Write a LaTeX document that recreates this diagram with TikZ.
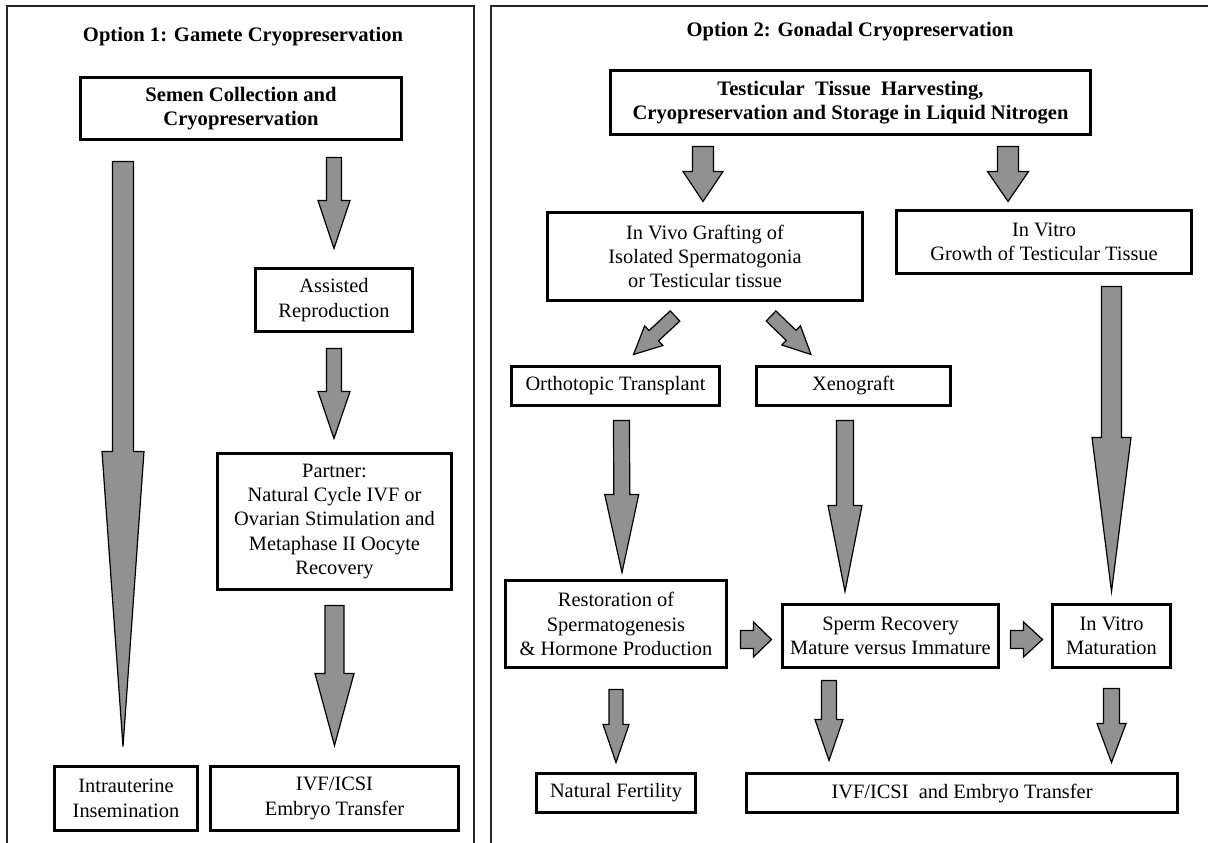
\documentclass[tikz,border=0pt]{standalone}
\usepackage{fontspec}
\setmainfont{Liberation Serif}
\usetikzlibrary{calc}
\definecolor{arrowgray}{RGB}{145,145,145}

\begin{document}
\begin{tikzpicture}[x=0.5pt,y=0.5pt,
  blockarrow/.style n args={3}{fill=arrowgray,draw=black,line width=0.6pt,line join=miter,
    to path={let \p1=(\tikztostart), \p2=(\tikztotarget),
      \n1={atan2(\y2-\y1,\x2-\x1)}, \n2={veclen(\x2-\x1,\y2-\y1)-#3} in
      ($(\p1)+(\n1+90:#1)$) -- ($(\p1)+(\n1:\n2)+(\n1+90:#1)$)
      -- ($(\p1)+(\n1:\n2)+(\n1+90:#2)$) -- (\p2)
      -- ($(\p1)+(\n1:\n2)+(\n1-90:#2)$) -- ($(\p1)+(\n1:\n2)+(\n1-90:#1)$)
      -- ($(\p1)+(\n1-90:#1)$) -- cycle}}]
\useasboundingbox (0,0) rectangle (1208,-842);
\clip (0,0) rectangle (1208,-842);
\tikzstyle{every node}+=[inner sep=0pt]
\tikzstyle{box}=[draw=black,line width=1.5pt,fill=white,align=center,font=\fontsize{10.2}{12.2}\selectfont]
\tikzstyle{boldbox}=[box,font=\fontsize{10.3}{12.2}\selectfont\bfseries]
\tikzstyle{title}=[font=\fontsize{10.3}{12.2}\selectfont\bfseries]
\tikzstyle{frame}=[line width=0.8pt,draw=black!85]
\draw[frame] (7,-850) -- (7,-6) -- (474,-6) -- (474,-850);
\draw[frame] (491,-850) -- (491,-6) -- (1215,-6);
\node[title] (opt1) at (243,-37) {Option 1: Gamete Cryopreservation};
\node[boldbox,minimum width=160.5pt,minimum height=31pt] (semen) at (241,-108.5) {Semen Collection and\\Cryopreservation};
\node[box,minimum width=78.5pt,minimum height=31.5pt] (art) at (334,-300) {Assisted\\Reproduction};
\node[box,minimum width=117pt,minimum height=68pt] (partner) at (334.5,-521.5) {Partner:\\Natural Cycle IVF or\\Ovarian Stimulation and\\Metaphase II Oocyte\\Recovery};
\node[box,minimum width=71.5pt,minimum height=32pt] (iui) at (126,-798.5) {Intrauterine\\Insemination};
\node[box,minimum width=124pt,minimum height=32pt] (ivfa) at (334.5,-798.5) {IVF/ICSI\\Embryo Transfer};
\node[title] (opt2) at (850,-32) {Option 2: Gonadal Cryopreservation};
\node[boldbox,minimum width=240pt,minimum height=32pt] (harvest) at (850.5,-102.5) {Testicular\ \ Tissue\ \ Harvesting,\\Cryopreservation and Storage in Liquid Nitrogen};
\node[box,minimum width=157.5pt,minimum height=44pt] (invivo) at (705,-256.5) {In Vivo Grafting of\\Isolated Spermatogonia\\or Testicular tissue};
\node[box,minimum width=147.5pt,minimum height=31.5pt] (invitro) at (1044,-242) {In Vitro\\Growth of Testicular Tissue};
\node[box,minimum width=104pt,minimum height=19.5pt] (ortho) at (615.5,-386) {Orthotopic Transplant};
\node[box,minimum width=97pt,minimum height=19.5pt] (xeno) at (853.5,-386) {Xenograft};
\node[box,minimum width=110.5pt,minimum height=43.5pt] (restore) at (616,-624) {Restoration of\\Spermatogenesis\\\& Hormone Production};
\node[box,minimum width=108pt,minimum height=31.5pt] (sperm) at (890.5,-636) {Sperm Recovery\\Mature versus Immature};
\node[box,minimum width=59pt,minimum height=31.5pt] (ivm) at (1111.5,-636) {In Vitro\\Maturation};
\node[box,minimum width=79.5pt,minimum height=19.5pt] (natural) at (616,-793) {Natural Fertility};
\node[box,minimum width=215.5pt,minimum height=19.5pt] (ivfb) at (962,-793) {IVF/ICSI\ \ and Embryo Transfer};
\draw[blockarrow={5.25pt}{10.5pt}{147.5pt}] ($(semen.south -| iui.north)+(-3,-20.5)$) to ($(iui.north)+(-3,18.5)$);
\draw[blockarrow={3.75pt}{8pt}{24pt}] ($(semen.south -| art.north)+(0,-16.5)$) to ($(art.north)+(0,18.5)$);
\draw[blockarrow={3.75pt}{8pt}{23.5pt}] ($(art.south)+(0,-15.5)$) to ($(partner.north -| art.north)+(0,13.5)$);
\draw[blockarrow={4.75pt}{9.75pt}{36pt}] ($(partner.south)+(0,-14.5)$) to ($(ivfa.north)+(0,19.5)$);
\draw[blockarrow={5.25pt}{10pt}{15pt}] ($(harvest.south -| invivo.north)+(-2,-10.5)$) to ($(invivo.north)+(-2,9.5)$);
\draw[blockarrow={5.25pt}{10.25pt}{15pt}] ($(harvest.south -| invitro.north)+(-36,-10.5)$) to ($(invitro.north)+(-36,7.5)$);
\draw[blockarrow={3.5pt}{6.7pt}{13.8pt}] ($(invivo.south)+(-30,-14)$) to ($(ortho.north)+(18,10.5)$);
\draw[blockarrow={3.5pt}{6.7pt}{13.8pt}] ($(invivo.south)+(66,-14)$) to ($(xeno.north)+(-42.5,10.5)$);
\draw[blockarrow={4pt}{8.5pt}{39pt}] ($(ortho.south)+(6,-13.5)$) to ($(restore.north)+(6,6.5)$);
\draw[blockarrow={4.25pt}{8.5pt}{43pt}] ($(xeno.south)+(-8.5,-13.5)$) to ($(sperm.north)+(-45.5,11.5)$);
\draw[blockarrow={5pt}{9.75pt}{77pt}] ($(invitro.south -| ivm.north)+(0,-11.5)$) to ($(ivm.north)+(0,11.5)$);
\draw[blockarrow={4.5pt}{8.75pt}{9pt}] ($(restore.east)+(12.5,-15.5)$) to ($(sperm.west)+(-9.5,-3.5)$);
\draw[blockarrow={4.5pt}{8.75pt}{9.5pt}] ($(sperm.east)+(10.5,-3.5)$) to ($(ivm.west)+(-8.5,-3.5)$);
\draw[blockarrow={3.5pt}{6.5pt}{19pt}] ($(restore.south)+(0,-20.5)$) to ($(natural.north)+(0,9.5)$);
\draw[blockarrow={3.75pt}{7pt}{20.5pt}] ($(sperm.south)+(-61.5,-11.5)$) to ($(ivfb.north)+(-133,11.5)$);
\draw[blockarrow={4pt}{7.25pt}{19.5pt}] ($(ivm.south)+(0,-19.5)$) to ($(ivfb.north -| ivm.south)+(0,9.5)$);
\end{tikzpicture}
\end{document}
